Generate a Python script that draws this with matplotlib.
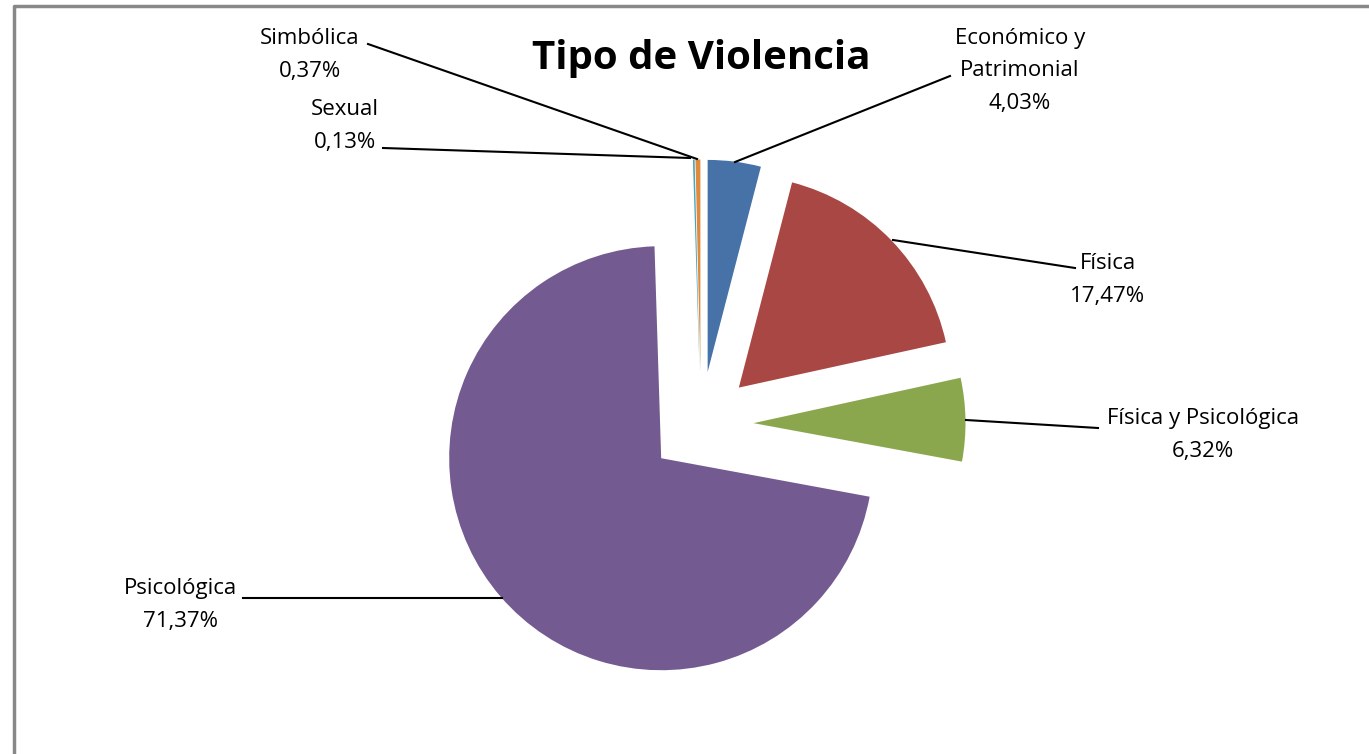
import matplotlib.pyplot as plt

plt.rcParams['font.family'] = ['Open Sans', 'DejaVu Sans']

labels = ['Económico y\nPatrimonial', 'Física', 'Física y Psicológica',
          'Psicológica', 'Sexual', 'Simbólica']
values = [4.03, 17.47, 6.32, 71.37, 0.13, 0.37]
colors = ['#4672a8', '#a84744', '#8ba74e', '#735a91', '#4aa4bc', '#e08a3e']

# label text anchor (pixels, y down) and leader line start/end
label_pos = [(1020, 71), (1108, 280), (1203, 435), (181, 605), (345, 126), (310, 55)]
line_from = [(950, 76), (1075, 268), (1098, 428), (243, 598), (383, 148), (368, 44)]
line_to = [(735, 162), (893, 240), (966, 420), (502, 598), (690, 158), (697, 159)]

W, H = 1369, 754

fig = plt.figure(figsize=(W / 100, H / 100), dpi=100)
ax = fig.add_axes([0, 0, 1, 1])

# explode is in data units here (pixels)
ax.pie(values, colors=colors, startangle=90, counterclock=False,
       explode=[52.5] * len(values), radius=212, center=(701, H - 424),
       wedgeprops=dict(linewidth=0), frame=True)
ax.set_xlim(0, W)
ax.set_ylim(0, H)
ax.set_aspect('equal')
ax.axis('off')

for lab, v, (tx, ty), (x0, y0), (x1, y1) in zip(labels, values, label_pos,
                                                 line_from, line_to):
    txt = lab + '\n' + f'{v:.2f}'.replace('.', ',') + '%'
    ax.text(tx, H - ty, txt, ha='center', va='center', fontsize=16,
            linespacing=1.7)
    ax.plot([x0, x1], [H - y0, H - y1], color='black', lw=1.5)

ax.text(701, H - 58, 'Tipo de Violencia', ha='center', va='center',
        fontsize=29, fontweight='bold')

# chart border
ax.plot([14, 14, W], [0, H - 6, H - 6], color='#888888', lw=2.5)

fig.savefig('out.png', dpi=100)
